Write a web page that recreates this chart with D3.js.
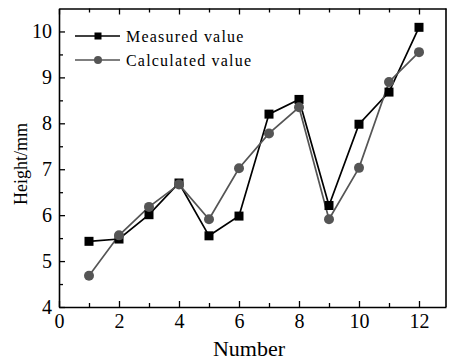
<!DOCTYPE html>
<html>
<head>
<meta charset="utf-8">
<script src="https://cdn.jsdelivr.net/npm/d3@7"></script>
<style>
  html, body { margin: 0; padding: 0; background: #fff; }
  svg { display: block; }
  svg text { font-family: "Liberation Serif", "Times New Roman", serif; }
</style>
</head>
<body>
<svg id="chart" width="449" height="361"></svg>
<script>
// Sample numbers 1..12
const numbers = [1, 2, 3, 4, 5, 6, 7, 8, 9, 10, 11, 12];
// Measured heights (mm)
const measured = [5.43, 5.48, 6.01, 6.70, 5.55, 5.98, 8.20, 8.52, 6.21, 7.98, 8.68, 10.09];
// Calculated heights (mm)
const calculated = [4.68, 5.56, 6.18, 6.67, 5.91, 7.02, 7.78, 8.35, 5.91, 7.03, 8.90, 9.55];

const xTicks = [0, 2, 4, 6, 8, 10, 12];
const yTicks = [4, 5, 6, 7, 8, 9, 10];

const svg = d3.select("#chart");
const m = { left: 59, right: 3, top: 8.5, bottom: 54 };
const W = 449, H = 361;

const x = d3.scaleLinear().domain([0, 12.9]).range([m.left, W - m.right]);
const y = d3.scaleLinear().domain([4, 10.5]).range([H - m.bottom, m.top]);

const tickFont = 20;
// Axes with inward ticks
function styleAxis(g) {
  g.attr("font-family", null).attr("font-size", null);
  g.select(".domain").attr("stroke", "#000").attr("stroke-width", 1.6);
  g.selectAll(".tick line").attr("stroke", "#000").attr("stroke-width", 1.3);
  g.selectAll(".tick text").attr("font-size", tickFont).attr("fill", "#000");
}

// bottom axis: major ticks
svg.append("g")
  .attr("transform", `translate(0,${y(4)})`)
  .call(d3.axisBottom(x).tickValues(xTicks).tickSize(-6).tickSizeOuter(0).tickPadding(7).tickFormat(d3.format("d")))
  .call(styleAxis);
// bottom minor ticks
svg.append("g")
  .attr("transform", `translate(0,${y(4)})`)
  .call(d3.axisBottom(x).tickValues([1, 3, 5, 7, 9, 11]).tickSize(-4).tickSizeOuter(0).tickFormat(""))
  .call(styleAxis).select(".domain").remove();

// top axis ticks (no labels)
svg.append("g")
  .attr("transform", `translate(0,${y(10.5)})`)
  .call(d3.axisTop(x).tickValues(xTicks).tickSize(-6).tickSizeOuter(0).tickFormat(""))
  .call(styleAxis);
svg.append("g")
  .attr("transform", `translate(0,${y(10.5)})`)
  .call(d3.axisTop(x).tickValues([1, 3, 5, 7, 9, 11]).tickSize(-4).tickSizeOuter(0).tickFormat(""))
  .call(styleAxis).select(".domain").remove();

// left axis
svg.append("g")
  .attr("transform", `translate(${x(0)},0)`)
  .call(d3.axisLeft(y).tickValues(yTicks).tickSize(-6).tickSizeOuter(0).tickPadding(7).tickFormat(d3.format("d")))
  .call(styleAxis);
svg.append("g")
  .attr("transform", `translate(${x(0)},0)`)
  .call(d3.axisLeft(y).tickValues([4.5, 5.5, 6.5, 7.5, 8.5, 9.5]).tickSize(-4).tickSizeOuter(0).tickFormat(""))
  .call(styleAxis).select(".domain").remove();

// right border
svg.append("line")
  .attr("x1", x(12.9)).attr("x2", x(12.9))
  .attr("y1", y(4)).attr("y2", y(10.5))
  .attr("stroke", "#000").attr("stroke-width", 1.6);

// Series
const series = [
  { name: "Measured value", values: measured, color: "#000", shape: "square" },
  { name: "Calculated value", values: calculated, color: "#555", shape: "circle" }
];

const line = d3.line().x((d, i) => x(numbers[i])).y(d => y(d));

function drawMarker(g, shape, cx, cy, color) {
  if (shape === "square") {
    g.append("rect").attr("x", cx - 4.5).attr("y", cy - 4.5).attr("width", 9).attr("height", 9)
      .attr("fill", color);
  } else {
    g.append("circle").attr("cx", cx).attr("cy", cy).attr("r", 5).attr("fill", color);
  }
}

series.forEach(s => {
  svg.append("path").datum(s.values)
    .attr("d", line).attr("fill", "none")
    .attr("stroke", s.color).attr("stroke-width", 1.7);
});
series.forEach(s => {
  const g = svg.append("g");
  s.values.forEach((v, i) => drawMarker(g, s.shape, x(numbers[i]), y(v), s.color));
});

// Legend
const legend = svg.append("g");
series.forEach((s, i) => {
  const ly = 36 + i * 24;
  legend.append("line").attr("x1", 75).attr("x2", 120).attr("y1", ly).attr("y2", ly)
    .attr("stroke", s.color).attr("stroke-width", 1.7);
  if (s.shape === "square") {
    legend.append("rect").attr("x", 98 - 3.5).attr("y", ly - 3.5).attr("width", 7).attr("height", 7).attr("fill", s.color);
  } else {
    legend.append("circle").attr("cx", 98).attr("cy", ly).attr("r", 4).attr("fill", s.color);
  }
  legend.append("text").attr("x", 126).attr("y", ly + 5.5)
    .attr("font-size", 16).attr("letter-spacing", 1.2).attr("fill", "#000").text(s.name);
});

// Axis titles
svg.append("text")
  .attr("x", 249).attr("y", 356)
  .attr("text-anchor", "middle").attr("font-size", 22).attr("fill", "#000").text("Number");
svg.append("text")
  .attr("transform", `translate(27,164) rotate(-90)`)
  .attr("text-anchor", "middle").attr("font-size", 18).attr("fill", "#000").text("Height/mm");
</script>
</body>
</html>
